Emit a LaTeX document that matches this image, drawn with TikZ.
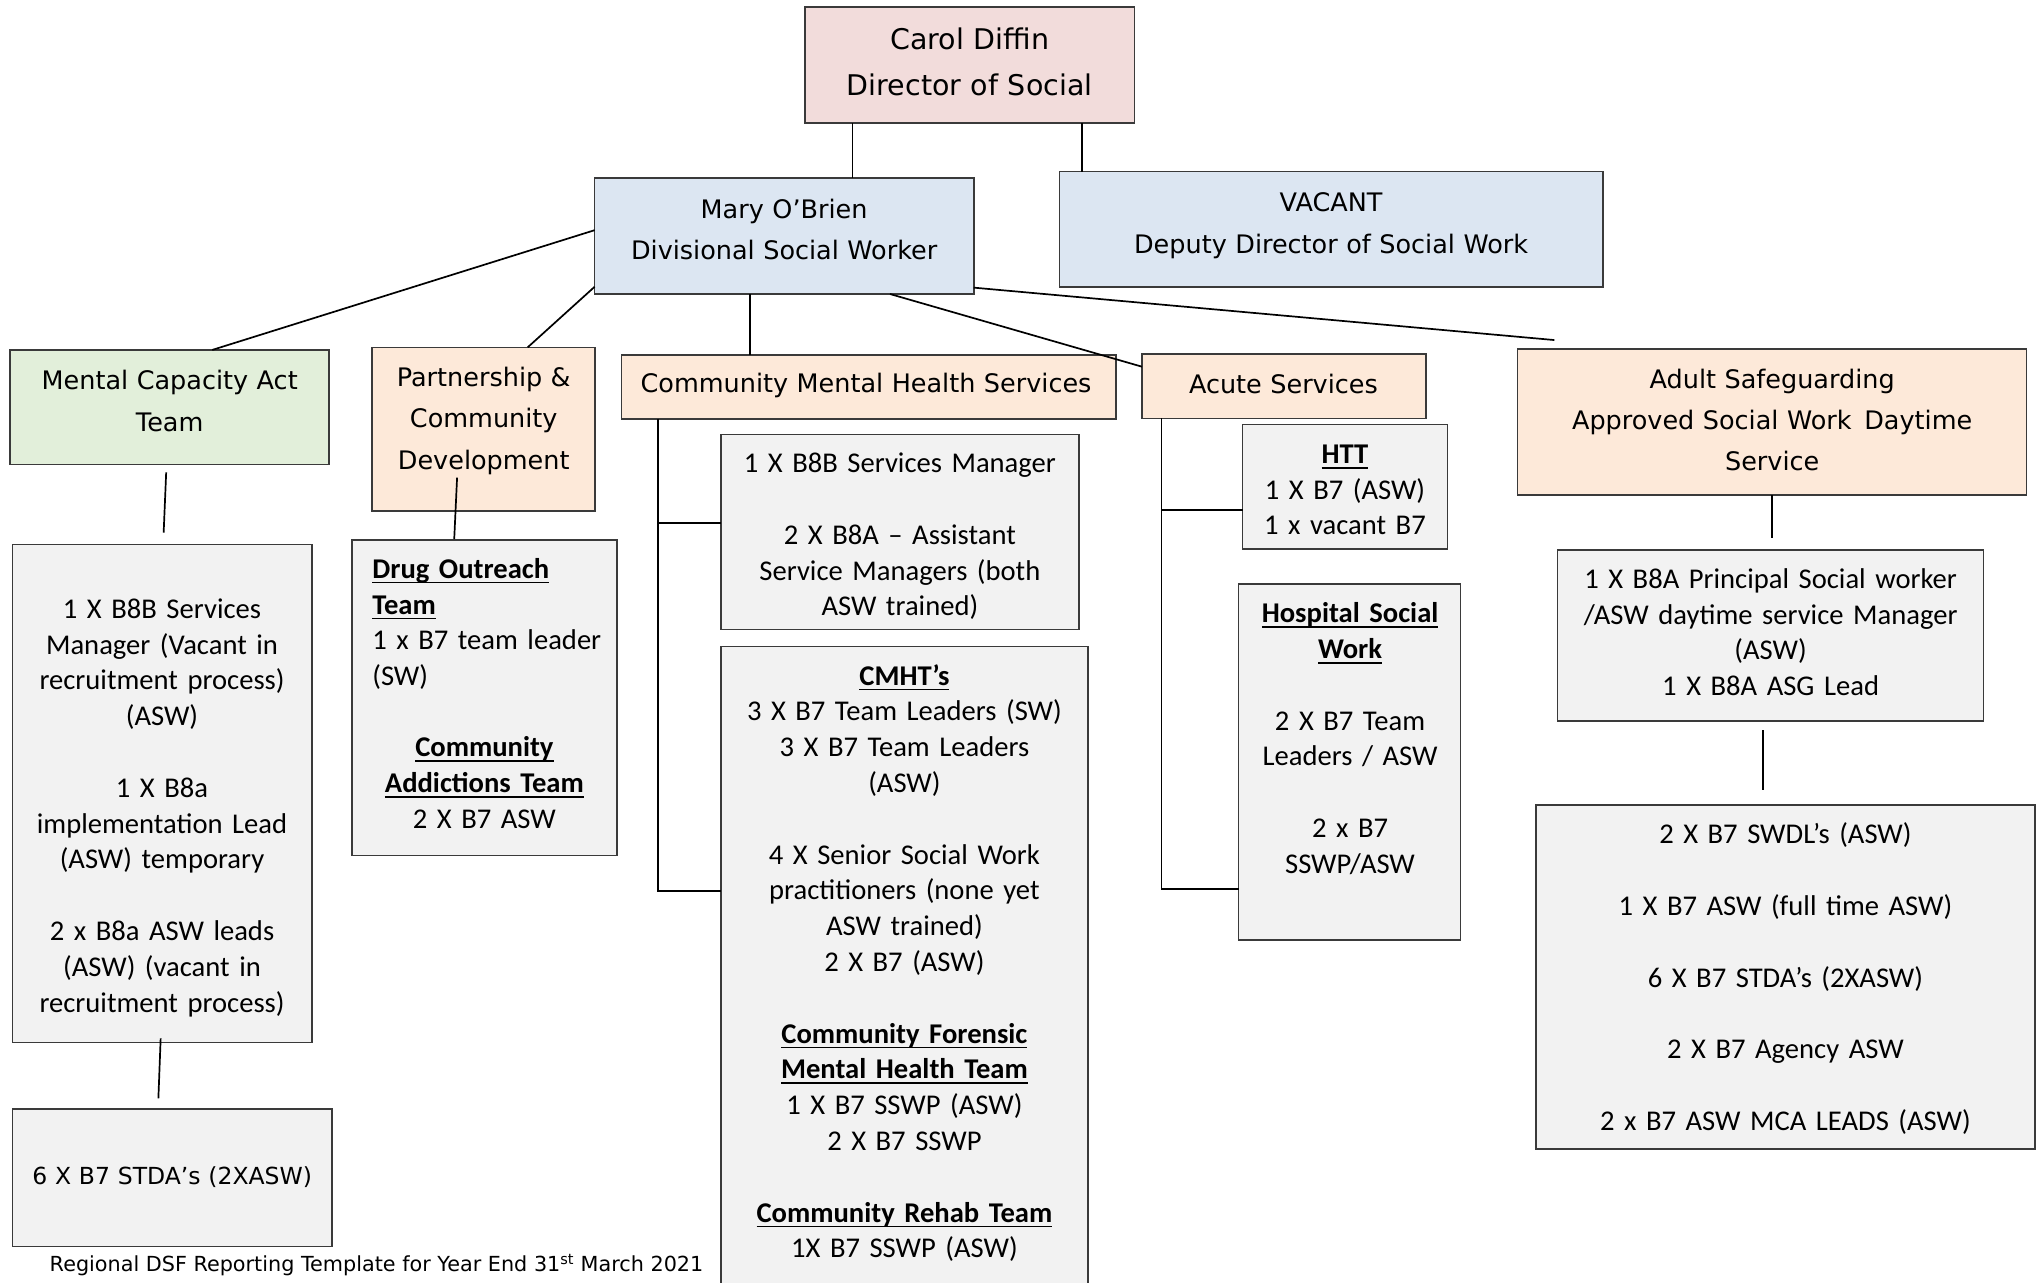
\documentclass[tikz,border=0pt]{standalone}
\usepackage{fontspec}
\setmainfont{Carlito}
\newfontfamily\hdrfont{DejaVu Sans}

\definecolor{pinkfill}{HTML}{F2DCDB}
\definecolor{bluefill}{HTML}{DCE6F2}
\definecolor{greenfill}{HTML}{E2EFDA}
\definecolor{peachfill}{HTML}{FDE9D9}
\definecolor{greyfill}{HTML}{F2F2F2}
\definecolor{edge}{HTML}{3A3A3A}

% bold text with a close underline
\newsavebox\ulbox
\newcommand\bul[1]{\leavevmode\sbox\ulbox{\bfseries #1}\rlap{\rule[-5.2pt]{\wd\ulbox}{1.6pt}}\usebox\ulbox}

% a box given by its left, top, right and bottom edges
\newcommand\orgbox[6]{%
  \node[orgbox, fill=#6, minimum width={(#4-#2)*1.3004}, minimum height={(#5-#3)*1.3004}]
    (#1) at ({(#2+#4)/2},{(#3+#5)/2}) {};}

\tikzset{
  orgbox/.style={draw=edge, line width=1.6pt, inner sep=0pt, outer sep=0pt},
  headtext/.style={inner sep=0pt, anchor=base, text width=600pt, align=center,
    font=\hdrfont\fontsize{25.5pt}{41.3pt}\selectfont},
  toptext/.style={headtext, font=\hdrfont\fontsize{28.5pt}{45.5pt}\selectfont},
  bodytext/.style={inner sep=0pt, anchor=base, text width=600pt, align=center,
    font=\fontsize{28.6pt}{35.8pt}\selectfont},
  link/.style={line width=1.7pt, black},
}
\newcommand\gap{\\[35.8pt]}

\begin{document}
\begin{tikzpicture}[x=1.3004pt, y=-1.3004pt]
\useasboundingbox (0,0) rectangle (1568,986.6);
\clip (0,0) rectangle (1568,986.6);
\fill[white] (0,0) rectangle (1568,986.6);

% ---- boxes ----
\orgbox{carol}{619}{5.6}{872.5}{94.8}{pinkfill}
\orgbox{mary}{457.3}{137.1}{748.8}{226.1}{bluefill}
\orgbox{vacant}{814.8}{132}{1232.5}{220.5}{bluefill}
\orgbox{mca}{7.8}{269.1}{253}{357.3}{greenfill}
\orgbox{part}{286.2}{267.1}{457.6}{393}{peachfill}
\orgbox{cmhs}{478}{273}{858.2}{322.2}{peachfill}
\orgbox{acute}{878.2}{272.4}{1096.4}{321.7}{peachfill}
\orgbox{adult}{1167.1}{268.6}{1558.5}{380.7}{peachfill}
\orgbox{mcad}{9.7}{418.6}{240}{801.8}{greyfill}
\orgbox{stda}{9.5}{853}{255.3}{958.7}{greyfill}
\orgbox{drug}{270.5}{415.3}{474.5}{658}{greyfill}
\orgbox{b8b}{554.4}{334}{829.6}{484}{greyfill}
\orgbox{cmht}{554.4}{497.3}{836.7}{995}{greyfill}
\orgbox{htt}{955.6}{326.3}{1113}{422.4}{greyfill}
\orgbox{hosp}{952.5}{449.3}{1123}{723}{greyfill}
\orgbox{asmgr}{1197.8}{423}{1525.2}{554.4}{greyfill}
\orgbox{asteam}{1181.2}{619}{1564.9}{883.6}{greyfill}

% ---- headings ----
\node[toptext] (carol-t) at (745.7,38.4) {Carol Diffin\\Director of Social};
\node[headtext] (mary-t) at (603,167.9) {Mary O’Brien\\Divisional Social Worker};
\node[headtext] (vacant-t) at (1023.6,162.8) {VACANT\\Deputy Director of Social Work};
\node[headtext] (mca-t) at (130.5,299.9) {Mental Capacity Act\\Team};
\node[headtext] (part-t) at (372,297.3) {Partnership \&\\Community\\Development};
\node[headtext] (cmhs-t) at (666,302) {Community Mental Health Services};
\node[headtext] (acute-t) at (987,302.5) {Acute Services};
\node[headtext] (adult-t) at (1362.8,298.6) {Adult Safeguarding\\Approved Social Work\hspace{0.5em}Daytime\\Service};

% ---- team details ----
\node[bodytext] (mcad-t) at (124.6,475.5) {1 X B8B Services\\Manager (Vacant in\\recruitment process)\\(ASW)\gap
  1 X B8a\\implementation Lead\\(ASW) temporary\gap
  2 x B8a ASW leads\\(ASW) (vacant in\\recruitment process)};
\node[headtext, font=\hdrfont\fontsize{23.5pt}{30pt}\selectfont] (stda-t) at (132.4,910.7) {6 X B7 STDA’s (2XASW)};
\node[bodytext, anchor=base west, text width=300pt, align=left] (drug-t) at (286.2,444.7)
  {\bul{Drug Outreach}\\\bul{Team}\\1 x B7 team leader\\(SW)};
\node[bodytext] (drug-c) at (372.5,581.9) {\bul{Community}\\\bul{Addictions Team}\\2 X B7 ASW};
\node[bodytext] (b8b-t) at (692,363.5) {1 X B8B Services Manager\gap
  2 X B8A – Assistant\\Service Managers (both\\ASW trained)};
\node[bodytext] (cmht-t) at (695.5,526.8) {\bul{CMHT’s}\\3 X B7 Team Leaders (SW)\\3 X B7 Team Leaders\\(ASW)\gap
  4 X Senior Social Work\\practitioners (none yet\\ASW trained)\\2 X B7 (ASW)\gap
  \bul{Community Forensic}\\\bul{Mental Health Team}\\1 X B7 SSWP (ASW)\\2 X B7 SSWP\gap
  \bul{Community Rehab Team}\\1X B7 SSWP (ASW)};
\node[bodytext] (htt-t) at (1034.3,356.3) {\bul{HTT}\\1 X B7 (ASW)\\1 x vacant B7};
\node[bodytext] (hosp-t) at (1038.2,478.8) {\bul{Hospital Social}\\\bul{Work}\gap
  2 X B7 Team\\Leaders / ASW\gap 2 x B7\\SSWP/ASW};
\node[bodytext] (asmgr-t) at (1361.6,452.4) {1 X B8A Principal Social worker\\/ASW daytime service Manager\\(ASW)\\1 X B8A ASG Lead};
\node[bodytext] (asteam-t) at (1373,649) {2 X B7 SWDL’s (ASW)\gap 1 X B7 ASW (full time ASW)\gap
  6 X B7 STDA’s (2XASW)\gap 2 X B7 Agency ASW\gap 2 x B7 ASW MCA LEADS (ASW)};

% ---- footer ----
\node[inner sep=0pt, anchor=base west, font=\hdrfont\fontsize{20.75pt}{24pt}\selectfont] (footer) at (38.1,977.9)
  {Regional DSF Reporting Template for Year End 31\textsuperscript{st} March 2021};

% ---- connector guide coordinates ----
\coordinate (xdir) at (655.6,0);
\coordinate (xdep) at (832,0);
\coordinate (ymca) at (0,177);
\coordinate (xmca) at (163.2,0);
\coordinate (ypart) at (0,220.5);
\coordinate (xpart) at (405.8,0);
\coordinate (xcmhs) at (576.7,0);
\coordinate (xacute) at (684.4,0);
\coordinate (yacute) at (0,282);
\coordinate (yadult) at (0,221.2);
\coordinate (adultend) at (1195.3,261.5);
\coordinate (cbx) at (505.8,0);
\coordinate (cby1) at (0,402);
\coordinate (cby2) at (0,685);
\coordinate (abx) at (893.3,0);
\coordinate (aby1) at (0,392.2);
\coordinate (aby2) at (0,683.7);
\coordinate (xas1) at (1362.9,0);
\coordinate (xas2) at (1355.8,0);

% ---- connectors ----
\draw[link] (carol.south -| xdir) -- (mary.north -| xdir);
\draw[link] (carol.south -| xdep) -- (vacant.north -| xdep);
\draw[link] (mary.west |- ymca) -- (mca.north -| xmca);
\draw[link] (mary.west |- ypart) -- (part.north -| xpart);
\draw[link] (mary.south -| xcmhs) -- (cmhs.north -| xcmhs);
\draw[link] (mary.south -| xacute) -- (acute.west |- yacute);
\draw[link] (mary.east |- yadult) -- (adultend);
\draw[link] ([shift={(-2.6,5.9)}]mca.south) -- ([shift={(1,-9)}]mcad.north);
\draw[link] ([shift={(-1.3,-3.3)}]mcad.south) -- ([shift={(-10.6,-8.4)}]stda.north);
\draw[link] ([shift={(-20.4,-25.7)}]part.south) -- ([shift={(-23.2,-0.8)}]drug.north);
\draw[link] (cmhs.south -| cbx) -- (cbx |- cby2) -- (cmht.west |- cby2);
\draw[link] (cbx |- cby1) -- (b8b.west |- cby1);
\draw[link] (acute.south -| abx) -- (abx |- aby2) -- (hosp.west |- aby2);
\draw[link] (abx |- aby1) -- (htt.west |- aby1);
\draw[link] (adult.south -| xas1) -- ([yshift=11.7pt]asmgr.north -| xas1);
\draw[link] ([yshift=-9.1pt]asmgr.south -| xas2) -- ([yshift=15pt]asteam.north -| xas2);
\end{tikzpicture}
\end{document}
